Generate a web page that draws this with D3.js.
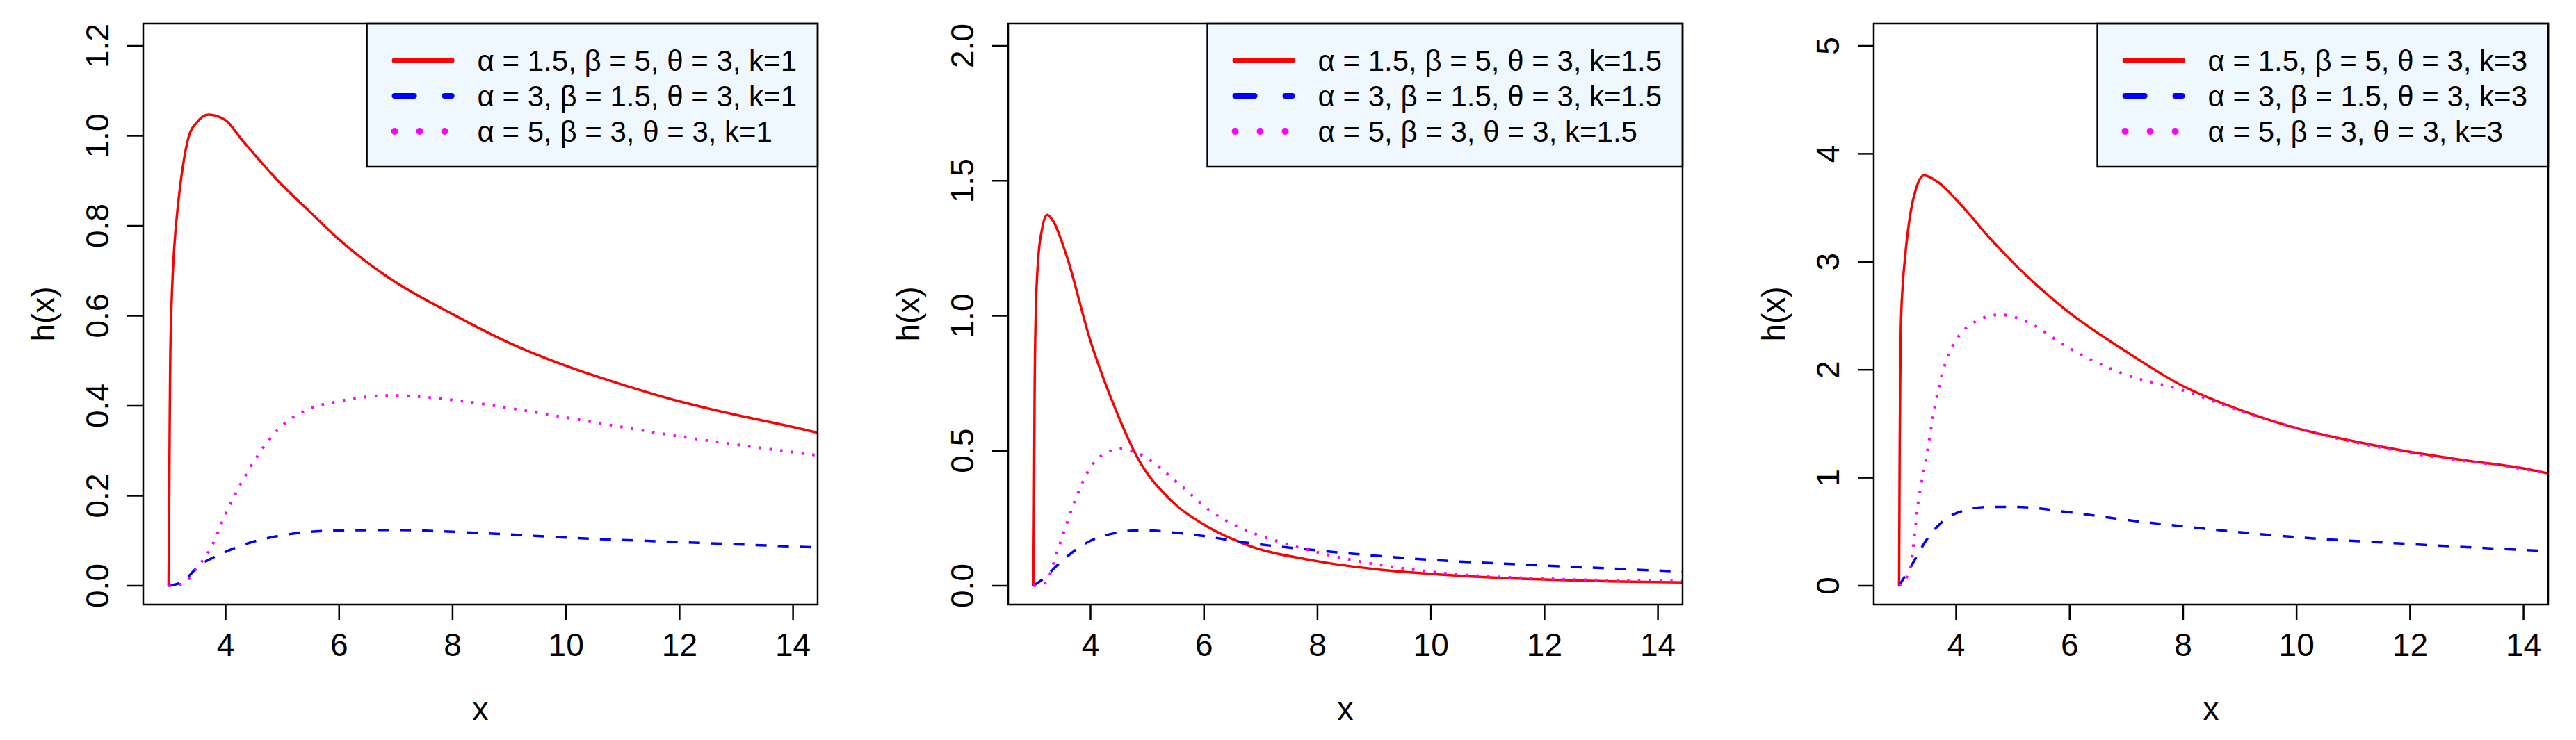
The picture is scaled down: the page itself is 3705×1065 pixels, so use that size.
<!DOCTYPE html>
<html><head><meta charset="utf-8">
<script src="https://cdn.jsdelivr.net/npm/d3@7"></script>
<style>body{margin:0;background:#fff}svg{display:block}text{font-family:"Liberation Sans",Arial,sans-serif}</style>
</head><body><svg id="c" width="3705" height="1065"></svg>
<script>
const kValues = ["1", "1.5", "3"];
const yMaxes = [1.2, 2, 5];
const yTicks = [[0,0.2,0.4,0.6,0.8,1.0,1.2],[0,0.5,1.0,1.5,2.0],[0,1,2,3,4,5]];
const xTicks = [4,6,8,10,12,14];
const seriesNames = ["α = 1.5, β = 5, θ = 3, k=", "α = 3, β = 1.5, θ = 3, k=", "α = 5, β = 3, θ = 3, k="];
const colors = ["#FF0000", "#0000FF", "#FF00FF"];

// panel 1 (k=1)
const red1 = [[3,0],[3.01,0.15],[3.02,0.35],[3.03,0.5],[3.06,0.65],[3.1,0.75],[3.17,0.85],[3.25,0.93],[3.36,1.0],[3.5,1.03],[3.7,1.047],[4,1.035],[4.3,0.99],[4.93,0.9],[5.5,0.83],[6,0.77],[6.9,0.683],[8,0.604],[9,0.54],[10,0.489],[11,0.447],[12,0.41],[13,0.38],[14,0.353],[14.44,0.34]];
const blue1 = [[3,0],[3.26,0.01],[3.5,0.04],[4,0.075],[4.5,0.098],[5,0.112],[6,0.123],[7,0.124],[8,0.12],[9,0.114],[10,0.107],[12,0.097],[14.44,0.085]];
const mag1 = [[3,0],[3.26,0.005],[3.5,0.04],[3.75,0.085],[4,0.158],[4.44,0.263],[4.93,0.347],[5.42,0.39],[6,0.41],[6.9,0.423],[8,0.413],[9,0.395],[10,0.374],[12,0.332],[14.44,0.29]];
// panel 2 (k=1.5)
const red2 = [[3,0],[3.01,0.3],[3.02,0.7],[3.04,1.0],[3.08,1.2],[3.15,1.32],[3.24,1.374],[3.35,1.35],[3.58,1.225],[4,0.91],[4.46,0.647],[4.84,0.472],[5.43,0.315],[6,0.227],[6.69,0.157],[8,0.091],[9,0.062],[10,0.044],[12,0.023],[14.44,0.012]];
const blue2 = [[3,0],[3.2,0.03],[3.39,0.07],[4,0.166],[4.46,0.196],[4.94,0.206],[5.52,0.196],[6,0.184],[6.7,0.161],[8,0.131],[10,0.096],[12,0.075],[14.44,0.052]];
const mag2 = [[3,0],[3.2,0.01],[3.44,0.14],[3.73,0.315],[4,0.437],[4.26,0.49],[4.55,0.507],[4.84,0.49],[5.62,0.367],[6.1,0.28],[6.7,0.21],[7.56,0.149],[8.6,0.096],[10,0.052],[12,0.026],[14.44,0.017]];
// panel 3 (k=3)
const red3 = [[3,0],[3.01,1.2],[3.02,1.9],[3.03,2.36],[3.06,2.75],[3.1,3.01],[3.2,3.45],[3.3,3.68],[3.44,3.8],[3.68,3.74],[4,3.58],[4.65,3.19],[5.13,2.93],[6,2.53],[6.97,2.18],[8,1.85],[9,1.63],[10,1.46],[11,1.34],[12,1.24],[13,1.16],[14,1.087],[14.44,1.04]];
const blue3 = [[3,0],[3.2,0.17],[3.49,0.43],[3.78,0.6],[4,0.67],[4.55,0.73],[5.04,0.73],[6,0.68],[7,0.61],[8,0.55],[10,0.45],[12,0.386],[14.44,0.32]];
const mag3 = [[3,0],[3.1,0.05],[3.2,0.17],[3.34,0.78],[3.49,1.22],[3.63,1.66],[3.87,2.14],[4,2.27],[4.36,2.45],[4.79,2.51],[5.23,2.45],[6,2.2],[6.97,1.96],[8,1.81],[9,1.62],[10,1.46],[12,1.23],[14,1.08],[14.44,1.04]];

const panelData = [[red1,blue1,mag1],[red2,blue2,mag2],[red3,blue3,mag3]];
const panelLefts = [206, 1450, 2695];
const W = 970, T0 = 34, B0 = 870;
const plotDash = [null, "16 16", "3.5 12"];
const legDash = [null, "28 44", "0 36"];
const svg = d3.select("#c");

panelData.forEach((series, p) => {
  const L = panelLefts[p];
  const g = svg.append("g");
  const x = d3.scaleLinear().domain([2.554, 14.44]).range([L, L + W]);
  const y = d3.scaleLinear().domain([0, yMaxes[p]]).range([843, 66]);
  const line = d3.line().x(d => x(d[0])).y(d => y(d[1])).curve(d3.curveMonotoneX);
  const clipId = "clip" + p;
  svg.append("clipPath").attr("id", clipId).append("rect").attr("x", L).attr("y", T0).attr("width", W).attr("height", B0 - T0);
  series.forEach((s, i) => {
    g.append("path").attr("d", line(s)).attr("fill", "none").attr("stroke", colors[i])
      .attr("stroke-width", i === 2 ? 4 : 3.5).attr("stroke-dasharray", plotDash[i]).attr("clip-path", `url(#${clipId})`);
  });
  const xa = g.append("g").attr("transform", `translate(0,${B0})`).call(d3.axisBottom(x).tickValues(xTicks).tickSize(23).tickPadding(18).tickFormat(d3.format("d")));
  const ya = g.append("g").attr("transform", `translate(${L},0)`).call(d3.axisLeft(y).tickValues(yTicks[p]).tickSize(23).tickFormat(p === 2 ? d3.format("d") : d3.format(".1f")));
  [xa, ya].forEach(a => { a.select(".domain").remove(); a.selectAll("line").attr("stroke", "#000").attr("stroke-width", 2.5); a.selectAll("text").attr("font-size", 46).attr("fill", "#000").attr("font-family", '"Liberation Sans",Arial,sans-serif'); });
  ya.selectAll(".tick").attr("transform", null);
  ya.selectAll(".tick line").attr("y1", d => y(d)).attr("y2", d => y(d));
  ya.selectAll("text").attr("x", null).attr("dy", null).attr("y", 0).attr("text-anchor", "middle")
    .attr("transform", d => `translate(-50,${y(d)}) rotate(-90)`);
  g.append("text").attr("x", L + W / 2).attr("y", 1036).attr("text-anchor", "middle").attr("font-size", 46).text("x");
  g.append("text").attr("transform", `translate(${L - 128},${(T0 + B0) / 2}) rotate(-90)`).attr("text-anchor", "middle").attr("font-size", 46).text("h(x)");
  const lg = g.append("g");
  const bg = lg.append("rect").attr("fill", "#F0F8FF").attr("stroke", "#000").attr("stroke-width", 2.5);
  const texts = seriesNames.map((n, i) => lg.append("text").attr("y", 87 + 51 * i).attr("dy", "0.35em").attr("font-size", 42).text(n + kValues[p]));
  const tw = d3.max(texts, t => t.node().getComputedTextLength());
  const boxW = 159 + tw + 30, LL = L + W - boxW;
  bg.attr("x", LL).attr("y", T0).attr("width", boxW).attr("height", 240 - T0);
  texts.forEach(t => t.attr("x", LL + 159));
  colors.forEach((c, i) => {
    lg.append("line").attr("x1", LL + 40).attr("x2", LL + 122).attr("y1", 87 + 51 * i).attr("y2", 87 + 51 * i)
      .attr("stroke", c).attr("stroke-width", i === 2 ? 10 : 8).attr("stroke-linecap", "round").attr("stroke-dasharray", legDash[i]);
  });
  g.append("rect").attr("x", L).attr("y", T0).attr("width", W).attr("height", B0 - T0).attr("fill", "none").attr("stroke", "#000").attr("stroke-width", 2.5);
});
</script></body></html>
